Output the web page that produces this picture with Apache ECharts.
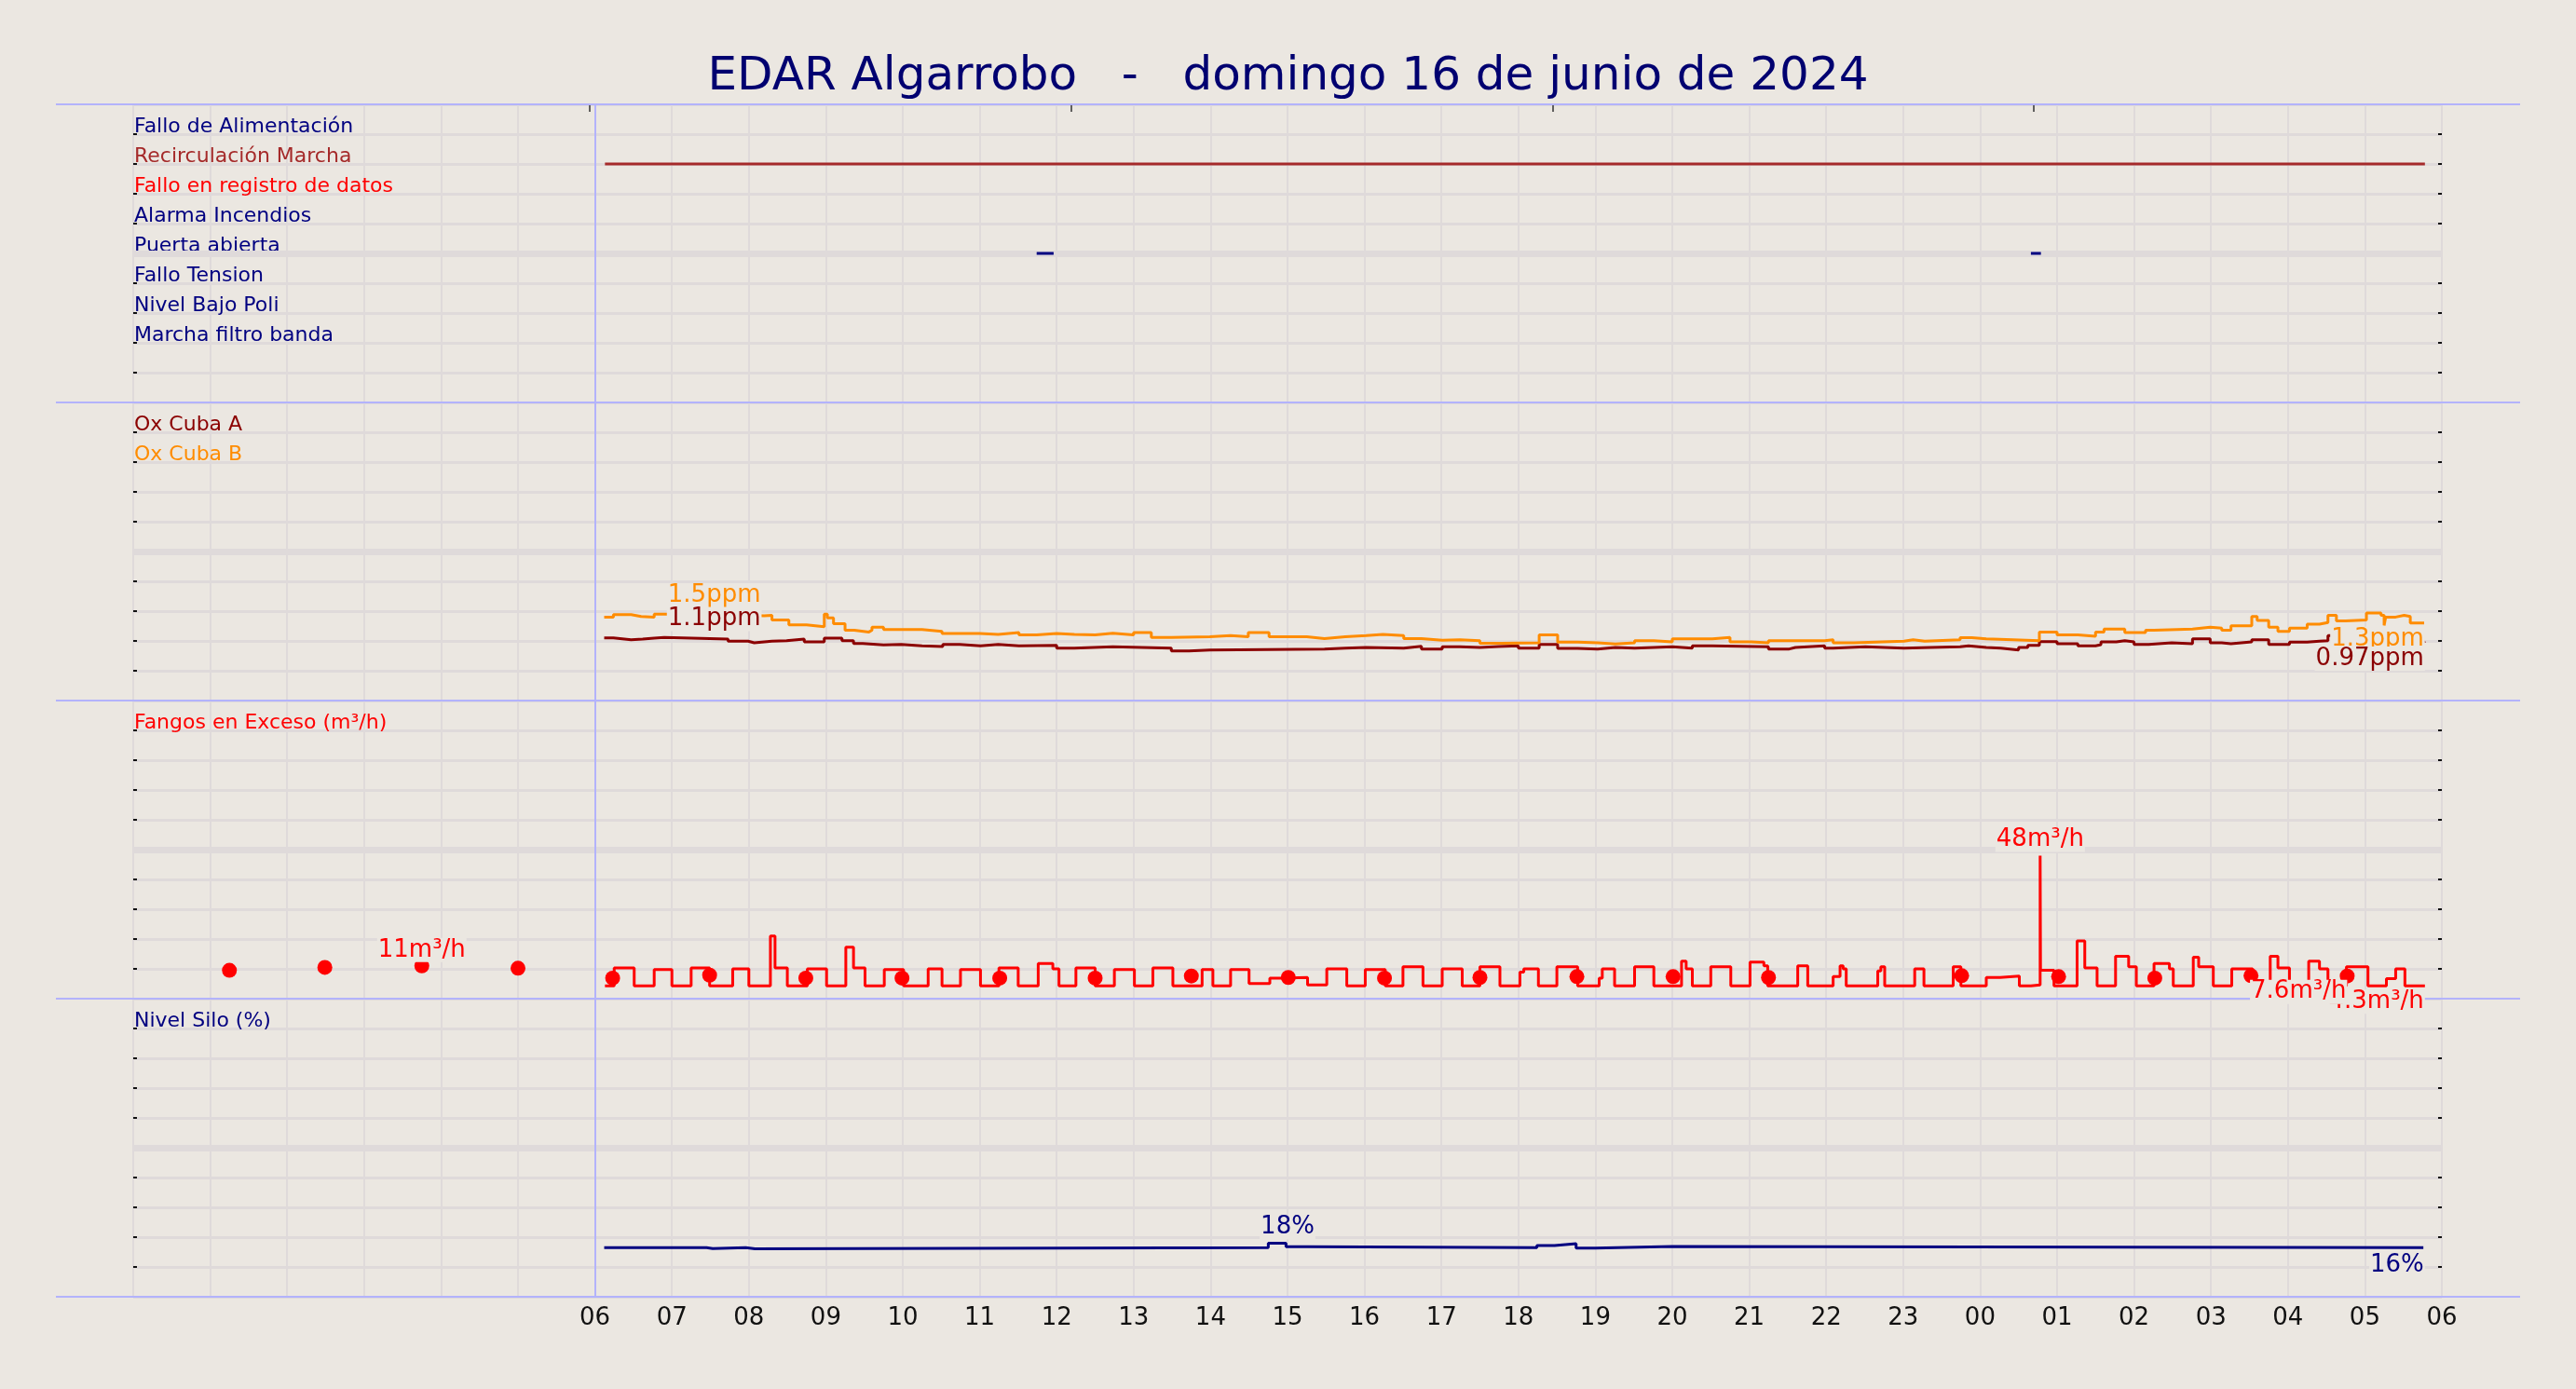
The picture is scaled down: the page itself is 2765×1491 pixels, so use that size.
<!DOCTYPE html>
<html>
<head>
<meta charset="utf-8">
<title>EDAR Algarrobo</title>
<script src="https://cdn.jsdelivr.net/npm/echarts@6/dist/echarts.min.js"></script>
<style>
html, body { margin: 0; padding: 0; background: #ebe7e1; }
#main { width: 2765px; height: 1491px; }
</style>
</head>
<body>
<div id="main"></div>
<script>
// hours counted from 00:00 of the day shown (axis 0..30 h)
var titleText = "EDAR Algarrobo   -   domingo 16 de junio de 2024";

// top panel: alarm / state rows (row 9 at top ... row 2)
var alarmRows = ["Fallo de Alimentación", "Recirculación Marcha", "Fallo en registro de datos", "Alarma Incendios",
    "Puerta abierta", "Fallo Tension", "Nivel Bajo Poli", "Marcha filtro banda"];
var alarmColors = ["#000080", "#a52a2a", "#ff0000", "#000080", "#000080", "#000080", "#000080", "#000080"];
var recirculacionOn = [[6.13, 29.78]];
var puertaOn = [[11.74, 11.96], [24.66, 24.79]];
var topTicks = [5.93, 12.19, 18.45, 24.69];

// oxygen (ppm)
var oxCubaA = [[6.12,1.05],[6.24,1.02],[6.47,1.03],[6.62,1.047],[6.77,1.057],[6.9,1.03],[7.73,0.995],[7.99,0.969],[8.07,0.995],[8.3,1.005],
    [8.49,1.031],[8.72,0.984],[8.98,1.047],[9.21,1.005],[9.36,0.958],[9.48,0.932],[9.75,0.943],[9.98,0.917],[10.25,0.906],[10.52,0.943],
    [10.74,0.917],[11.01,0.943],[11.24,0.917],[11.51,0.927],[12.0,0.88],[12.23,0.901],[12.73,0.88],[13.49,0.833],[13.72,0.849],[13.99,0.865],
    [15.48,0.88],[15.75,0.891],[16.02,0.88],[16.51,0.911],[16.74,0.865],[17.01,0.901],[17.24,0.891],[17.5,0.906],[17.74,0.917],[18.0,0.88],
    [18.27,0.943],[18.51,0.875],[18.77,0.865],[19.03,0.891],[19.26,0.88],[19.51,0.891],[19.76,0.901],[20.0,0.88],[20.26,0.917],[20.52,0.901],
    [21.25,0.865],[21.52,0.891],[21.6,0.917],[21.98,0.88],[22.09,0.901],[22.51,0.88],[23.01,0.891],[23.36,0.901],[23.74,0.917],[23.85,0.891],
    [24.08,0.88],[24.27,0.849],[24.5,0.891],[24.62,0.927],[24.77,0.99],[25.0,0.953],[25.27,0.917],[25.5,0.937],[25.57,0.984],[25.77,1.005],
    [25.88,0.984],[26.0,0.943],[26.19,0.969],[26.49,0.953],[26.76,1.036],[26.99,0.969],[27.14,0.953],[27.26,0.984],[27.53,1.02],[27.75,0.943],
    [28.02,0.979],[28.25,0.995],[28.41,1.005],[28.52,1.088],[28.63,1.02],[29.0,1.0],[29.4,0.99],[29.77,0.97]];
var oxCubaB = [[6.12,1.40],[6.24,1.44],[6.47,1.41],[6.6,1.40],[6.77,1.45],[6.9,1.44],[7.5,1.42],[8.2,1.43],[8.3,1.35],[8.52,1.27],
    [8.75,1.24],[8.98,1.45],[9.02,1.385],[9.1,1.29],[9.25,1.18],[9.37,1.15],[9.56,1.18],[9.6,1.23],[9.75,1.19],[10.25,1.16],
    [10.51,1.125],[11.0,1.11],[11.24,1.14],[11.51,1.10],[11.74,1.125],[12.0,1.11],[12.23,1.10],[12.5,1.13],[12.73,1.10],[13.0,1.14],
    [13.23,1.06],[13.49,1.07],[13.99,1.09],[14.26,1.07],[14.49,1.14],[14.76,1.07],[15.25,1.04],[15.48,1.07],[15.75,1.09],[16.02,1.11],
    [16.24,1.09],[16.51,1.04],[16.74,1.01],[17.01,1.02],[17.24,1.005],[17.5,0.96],[17.77,0.97],[18.27,1.10],[18.51,0.98],[18.77,0.97],
    [19.03,0.95],[19.26,0.97],[19.51,1.005],[19.76,0.985],[20.0,1.035],[20.52,1.06],[20.75,0.985],[21.02,0.97],[21.25,1.005],[21.98,1.02],
    [22.09,0.97],[22.36,0.995],[23.01,1.02],[23.13,0.995],[23.28,1.02],[23.74,1.055],[23.89,1.035],[24.08,1.005],[24.77,1.15],[25.0,1.10],
    [25.27,1.08],[25.5,1.15],[25.61,1.20],[25.88,1.14],[26.15,1.18],[26.26,1.20],[26.76,1.23],[26.99,1.215],[27.14,1.18],[27.26,1.255],
    [27.53,1.41],[27.6,1.345],[27.75,1.23],[27.87,1.16],[28.02,1.215],[28.25,1.28],[28.41,1.31],[28.52,1.43],[28.63,1.335],[28.75,1.35],
    [29.02,1.47],[29.21,1.43],[29.25,1.26],[29.27,1.40],[29.4,1.43],[29.51,1.41],[29.59,1.30],[29.77,1.30]];
var oxNotes = [[7.55, 1.5, "B", "top"], [7.55, 1.1, "A", "top"], [29.78, 1.3, "B", "bottom"], [29.78, 0.97, "A", "bottom"]];

// excess sludge (m3/h)
var fangos = [[6.13,4.3],[6.25,10.3],[6.51,4.3],[6.77,9.8],[7.0,4.3],[7.25,10.3],[7.49,4.3],[7.79,10.0],[8.0,4.3],[8.28,21],
    [8.34,10.3],[8.5,4.3],[8.76,10.0],[9.01,4.3],[9.26,17.3],[9.36,10.3],[9.51,4.3],[9.76,9.8],[10.01,4.3],[10.33,10.0],
    [10.51,4.3],[10.75,9.8],[11.01,4.3],[11.25,10.3],[11.5,4.3],[11.76,11.8],[11.95,10.0],[12.03,4.3],[12.25,10.3],[12.5,4.3],
    [12.75,9.8],[13.01,4.3],[13.25,10.3],[13.51,4.3],[13.89,9.8],[14.03,4.3],[14.26,9.8],[14.5,5.1],[14.77,6.9],[14.92,7.1],
    [15.26,4.6],[15.51,10.0],[15.77,4.3],[16.01,9.8],[16.27,4.3],[16.5,10.7],[16.76,4.3],[17.01,10.0],[17.27,4.3],[17.5,10.7],
    [17.76,4.3],[18.02,8.9],[18.07,10.0],[18.26,4.3],[18.5,10.7],[18.77,4.3],[19.05,6.9],[19.09,10.0],[19.25,4.3],[19.51,10.7],
    [19.76,4.3],[20.12,12.6],[20.18,10.0],[20.26,4.3],[20.5,10.7],[20.76,4.3],[21.01,12.3],[21.19,11.0],[21.24,4.3],[21.63,11.0],
    [21.76,4.3],[22.09,7.4],[22.18,11.0],[22.22,10.0],[22.26,4.3],[22.67,9.3],[22.71,10.7],[22.76,4.3],[23.15,10.0],[23.27,4.3],
    [23.65,10.7],[23.75,4.3],[24.08,7.1],[24.26,7.6],[24.51,4.3],[24.66,4.6],[24.78,48],[24.785,9.5],[24.96,4.3],[25.26,19.4],
    [25.36,10.3],[25.52,4.3],[25.76,14.2],[25.93,10.7],[26.03,4.3],[26.26,11.8],[26.46,10.0],[26.51,4.3],[26.77,13.9],[26.84,10.7],
    [27.03,4.3],[27.27,10.0],[27.54,4.3],[27.77,14.2],[27.87,10.3],[28.02,4.3],[28.27,12.6],[28.41,10.0],[28.52,4.3],[28.76,10.7],
    [29.04,4.3],[29.28,6.7],[29.4,10.0],[29.52,4.3],[29.78,4.3]];
var fangosMedia = [[1.25,9.5],[2.49,10.5],[3.75,11],[5.0,10.2],
    [6.23,6.9],[7.49,7.9],[8.74,6.9],[9.99,6.9],[11.26,6.9],[12.5,6.9],[13.75,7.6],
    [15.01,7.1],[16.26,6.9],[17.5,7.1],[18.76,7.4],[20.01,7.4],[21.25,7.1],
    [23.76,7.7],[25.02,7.4],[26.27,6.9],[27.52,7.7],[28.77,7.6]];
var fangosNotes = [[3.75, 11, "top", "center"], [24.78, 48, "top", "center"], [29.78, 4.3, "bottom", "right"], [28.77, 7.6, "bottom", "right"]];

// silo level (%)
var nivelSilo = [[6.12,16.5],[7.45,16.2],[7.53,16.5],[7.96,16.1],[8.08,16.5],[14.75,18.0],[14.98,16.8],[15.26,16.5],
    [18.24,17.2],[18.47,17.8],[18.75,16.3],[19.0,16.9],[20.0,16.5],[29.76,16.5]];
var siloNotes = [[15.0, 18, "top", "center"], [29.78, 16, "bottom", "right"]];

var BG = "#ebe7e1", GRIDC = "#dfdada", SEP = "#b3b3fb";
var FONT = "DejaVu Sans";
var panelTop = 112, panelH = 320;

function pad2(n) { return (n < 10 ? "0" : "") + n; }

var grids = [], xAxes = [], yAxes = [], series = [];

function leftLabels(max, step, names) {
    var rich = {};
    names.forEach(function (n, i) {
        rich["k" + i] = {color: n[2], fontSize: 22, lineHeight: 15, fontFamily: FONT};
    });
    return {
        show: true, inside: true, margin: 1, verticalAlign: "bottom",
        rich: rich,
        formatter: function (v) {
            for (var i = 0; i < names.length; i++) {
                if (Math.abs(names[i][0] - v) < step / 10) return "{k" + i + "|" + names[i][1] + "}";
            }
            return "";
        }
    };
}

function addPanel(g, max, step, names) {
    grids.push({left: 143, right: 144, top: panelTop + g * panelH, height: panelH, containLabel: false});
    xAxes.push({
        gridIndex: g, type: "value", min: 0, max: 30, interval: 1, position: "bottom",
        axisLine: {show: false, onZero: false}, axisTick: {show: false},
        axisLabel: {show: g === 3, margin: 10, fontSize: 26, color: "#111", fontFamily: FONT,
            formatter: function (v) { return v >= 6 ? pad2(v % 24) : ""; }},
        splitLine: {show: true, lineStyle: {color: GRIDC, width: 2}}
    });
    yAxes.push({
        gridIndex: g, type: "value", min: 0, max: max, interval: step, position: "left",
        axisLine: {show: false, onZero: false},
        axisTick: {show: true, inside: true, length: 4, lineStyle: {color: "#111", width: 2}},
        axisLabel: leftLabels(max, step, names),
        splitLine: {show: true, lineStyle: {color: GRIDC, width: 3}}
    });
    // middle band and the 06:00 marker, kept under the data lines
    series.push({
        type: "line", xAxisIndex: g, yAxisIndex: g, data: [], z: 1, silent: true,
        markLine: {
            z: 1, silent: true, symbol: ["none", "none"], label: {show: false}, animation: false,
            data: [
                {yAxis: max / 2, lineStyle: {color: GRIDC, width: 7, type: "solid"}},
                {xAxis: 6, lineStyle: {color: SEP, width: 2, type: "solid"}}
            ]
        }
    });
}

addPanel(0, 10, 1, alarmRows.map(function (n, i) { return [9 - i, n, alarmColors[i]]; }));
addPanel(1, 5, 0.5, [[4.5, "Ox Cuba A", "#8b0000"], [4.0, "Ox Cuba B", "#ff8c00"]]);
addPanel(2, 100, 10, [[90, "Fangos en Exceso (m³/h)", "#ff0000"]]);
addPanel(3, 100, 10, [[90, "Nivel Silo (%)", "#000080"]]);

// right-hand ticks
[[0, 10, 1], [1, 5, 0.5], [2, 100, 10], [3, 100, 10]].forEach(function (p) {
    yAxes.push({
        gridIndex: p[0], type: "value", min: 0, max: p[1], interval: p[2], position: "right",
        axisLine: {show: false, onZero: false}, axisLabel: {show: false}, splitLine: {show: false},
        axisTick: {show: true, inside: true, length: 4, lineStyle: {color: "#111", width: 2}}
    });
});

// top tick marks
xAxes.push({
    gridIndex: 0, type: "value", min: 0, max: 30, position: "top",
    axisLine: {show: false, onZero: false}, axisLabel: {show: false}, splitLine: {show: false},
    axisTick: {show: true, inside: true, length: 8, customValues: topTicks, lineStyle: {color: "#333", width: 1.5}}
});

// separator lines between panels
grids.push({left: 60, right: 60, top: panelTop, height: panelH * 4});
xAxes.push({gridIndex: 4, type: "value", min: 0, max: 1, show: false});
yAxes.push({
    gridIndex: 4, type: "value", min: 0, max: 4, interval: 1, z: 3,
    axisLine: {show: false}, axisTick: {show: false}, axisLabel: {show: false},
    splitLine: {show: true, lineStyle: {color: SEP, width: 2}}
});

// on/off periods drawn as separate flat segments
function segs(list, row) {
    var out = [];
    list.forEach(function (s, i) {
        if (i > 0) out.push([(list[i - 1][1] + s[0]) / 2, "-"]);
        out.push([s[0], row]);
        out.push([s[1], row]);
    });
    return out;
}

function flatLine(g, data, color) {
    return {type: "line", xAxisIndex: g, yAxisIndex: g, data: data, symbol: "none",
        connectNulls: false, z: 3, lineStyle: {color: color, width: 3}};
}

function stepLine(g, data, color, z) {
    return {type: "line", xAxisIndex: g, yAxisIndex: g, data: data, step: "end", symbol: "none",
        connectNulls: false, z: z || 2, lineStyle: {color: color, width: 3}};
}

series.push(flatLine(0, segs(recirculacionOn, 8), "#a52a2a"));
series.push(flatLine(0, segs(puertaOn, 5), "#000080"));

series.push(stepLine(1, oxCubaA, "#8b0000", 2));
series.push(stepLine(1, oxCubaB, "#ff8c00", 3));

series.push(stepLine(2, fangos, "#ff0000"));
series.push({type: "scatter", xAxisIndex: 2, yAxisIndex: 2, data: fangosMedia, symbolSize: 16,
    itemStyle: {color: "#ff0000", opacity: 1}, z: 3});

series.push(stepLine(3, nivelSilo, "#000080"));

function notes(g, items, fmt) {
    return {
        type: "scatter", xAxisIndex: g, yAxisIndex: g, symbolSize: 2, z: 6, silent: true,
        itemStyle: {color: "rgba(0,0,0,0)", opacity: 1},
        data: items.map(function (it) {
            var f = fmt(it);
            return {value: [it[0], it[1]], label: {show: true, position: f.pos, align: f.align, distance: 3,
                formatter: f.text, color: f.color, fontSize: 26, fontFamily: FONT,
                backgroundColor: BG, padding: [0, 1]}};
        })
    };
}

series.push(notes(1, oxNotes, function (it) {
    return {text: it[1] + "ppm", pos: it[3], align: it[3] === "bottom" ? "right" : "center",
        color: it[2] === "A" ? "#8b0000" : "#ff8c00"};
}));
series.push(notes(2, fangosNotes, function (it) {
    return {text: it[1] + "m³/h", pos: it[2], align: it[3], color: "#ff0000"};
}));
series.push(notes(3, siloNotes, function (it) {
    return {text: it[1] + "%", pos: it[2], align: it[3], color: "#000080"};
}));

var option = {
    backgroundColor: BG,
    animation: false,
    textStyle: {fontFamily: FONT},
    title: {
        text: titleText, left: "center", top: 53,
        textStyle: {fontSize: 50, fontWeight: "normal", color: "#000070", fontFamily: FONT}
    },
    grid: grids,
    xAxis: xAxes,
    yAxis: yAxes,
    series: series
};

var myChart = echarts.init(document.getElementById("main"));
myChart.setOption(option);
</script>
</body>
</html>
